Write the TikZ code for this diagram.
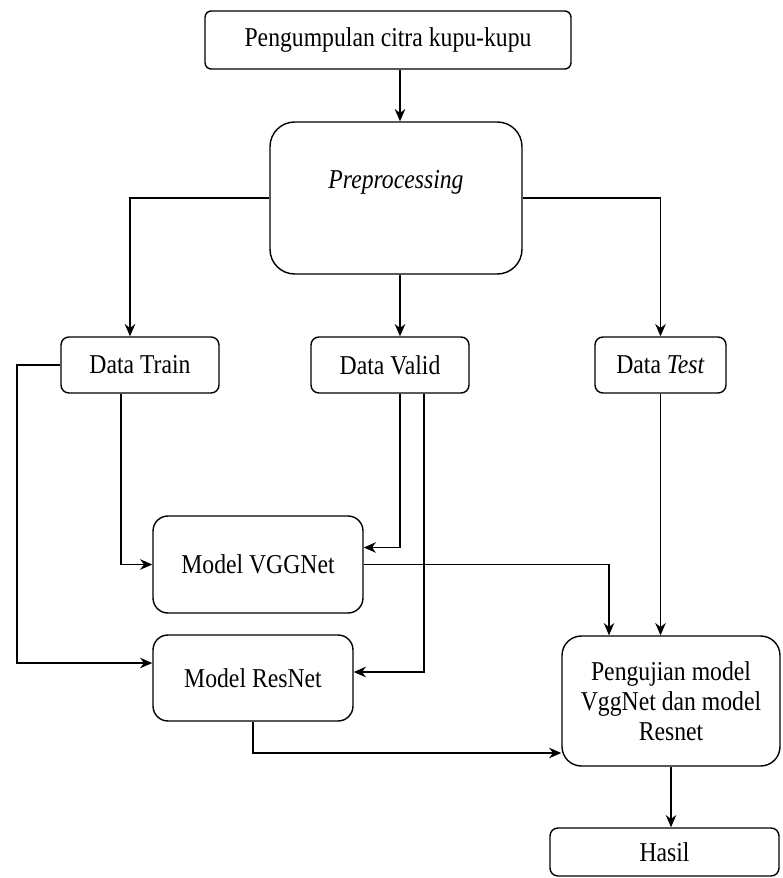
\documentclass[tikz,border=0pt]{standalone}
\usepackage{fontspec}
\setmainfont{Liberation Serif}[FakeStretch=0.87]
\usetikzlibrary{arrows.meta}
\begin{document}
\begin{tikzpicture}[>={Stealth[length=7pt,width=6pt]},x=0.02cm,y=-0.02cm,line width=0.8pt,
	kotak/.style={draw,rounded corners=#1,inner sep=0pt,align=center,font=\fontsize{15.5}{17}\selectfont},
	kotak/.default=4.5pt,
	teks/.style={inner sep=0pt,font=\fontsize{15.5}{17}\selectfont}]
		\useasboundingbox (0,0) rectangle (783,878);
		\coordinate (tengah) at (400,0);
		\coordinate (kiri) at (17,0);
		% kotak-kotak
		\node[kotak=3.5pt,minimum width=7.32cm,minimum height=1.16cm] (kumpul) at (388,40) {Pengumpulan citra kupu-kupu};
		\node[kotak=14pt,minimum width=5.04cm,minimum height=3.04cm] (pre) at (396,198) {};
		\node[teks] (pretext) at (396,182) {\textit{Preprocessing}};
		\node[kotak,minimum width=3.16cm,minimum height=1.12cm] (train) at (140,365) {Data Train};
		\node[kotak,minimum width=3.16cm,minimum height=1.12cm] (valid) at (390,365) {Data Valid};
		\node[kotak,minimum width=2.62cm,minimum height=1.12cm] (test) at (660.5,365) {Data \textit{Test}};
		\node[kotak=8.5pt,minimum width=4.2cm,minimum height=1.94cm] (vgg) at (258,564.5) {Model VGGNet};
		\node[kotak=8.5pt,minimum width=4cm,minimum height=1.72cm] (res) at (253,678) {Model ResNet};
		\node[kotak=11pt,minimum width=4.36cm,minimum height=2.6cm] (uji) at (671,701) {Pengujian model\\VggNet dan model\\Resnet};
		\node[kotak,minimum width=4.58cm,minimum height=0.96cm] (hasil) at (664.5,852) {Hasil};
		% panah
		\draw[->] (kumpul.south -| tengah) -- (pre.north -| tengah);
		\draw[->] (pre.west) -| ([xshift=-0.2cm]train.north);
		\draw[->] (pre.south -| tengah) -- (valid.north -| tengah);
		\draw[->] (pre.east) -| (test.north);
		\draw[->] ([xshift=-0.38cm]train.south) |- (vgg.west);
		\draw[->] (train.west) -- (train.west -| kiri) |- ([yshift=0.3cm]res.west);
		\draw[->] (valid.south -| tengah) |- ([yshift=0.34cm]vgg.east);
		\draw[->] ([xshift=0.68cm]valid.south) |- ([yshift=0.12cm]res.east);
		\draw[->] (vgg.east) -| ([xshift=-1.24cm]uji.north);
		\draw[->] (test.south) -- (test.south |- uji.north);
		\draw[->] (res.south) |- ([yshift=-1.04cm]uji.west);
		\draw[->] (uji.south) -- (uji.south |- hasil.north);
\end{tikzpicture}
\end{document}
